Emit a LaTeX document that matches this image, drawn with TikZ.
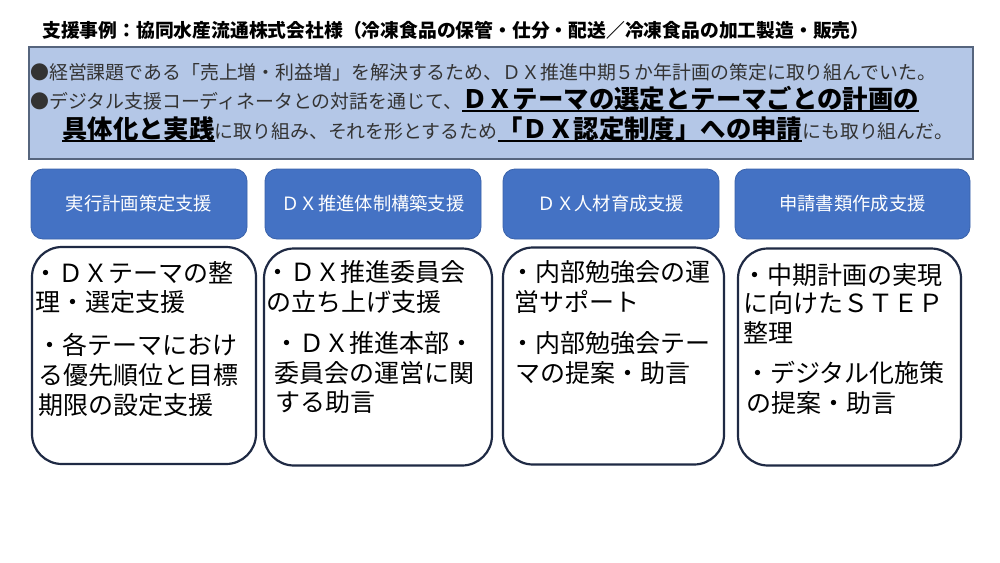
\documentclass[tikz,border=0pt]{standalone}
\usepackage{fontspec}
\setmainfont{Noto Sans CJK JP}
\definecolor{panelfill}{HTML}{B4C7E7}
\definecolor{paneldraw}{HTML}{56657E}
\definecolor{headfill}{HTML}{4472C4}
\definecolor{headdraw}{HTML}{3A62AA}
\definecolor{boxdraw}{HTML}{1F2A44}
\definecolor{paneltext}{HTML}{333333}
\newcommand\myul[1]{\setbox0\hbox{#1}\rlap{\rule[-4pt]{\wd0}{1.7pt}}\box0}
\newcommand\bigbf[1]{{\bfseries\fontsize{25.4}{25.4}\selectfont\color{black}\myul{#1}}}
\begin{document}
\begin{tikzpicture}[x=1pt,y=-1pt,
  titletext/.style={anchor=base west,inner sep=0,font=\bfseries\fontsize{18.8}{18.8}\selectfont},
  panel/.style={draw=paneldraw,line width=1.2pt,fill=panelfill,inner sep=0},
  ptext/.style={anchor=base west,inner sep=0,text=paneltext,font=\fontsize{18.9}{18.9}\selectfont},
  headbox/.style={draw=headdraw,line width=0.8pt,fill=headfill,rounded corners=12pt,minimum height=70pt,text=white,font=\fontsize{18.3}{18.3}\selectfont,inner sep=0},
  cbox/.style={draw=boxdraw,line width=2.2pt,fill=white,rounded corners=30pt,minimum height=217pt,inner sep=0},
  ctext/.style={anchor=base west,inner sep=0,font=\fontsize{25}{25}\selectfont}]
\fill[white] (0,0) rectangle (1000,562);
\useasboundingbox (0,0) rectangle (1000,562);

\node[titletext] (title) at (42,37) {支援事例：協同水産流通株式会社様（冷凍食品の保管・仕分・配送／冷凍食品の加工製造・販売）};

\node[panel,minimum width=944pt,minimum height=112pt] (panel) at (501,103) {};
\node[ptext] (p1) at (30,79) {●経営課題である「売上増・利益増」を解決するため、ＤＸ推進中期５か年計画の策定に取り組んでいた。};
\node[ptext] (p2) at (30,108) {●デジタル支援コーディネータとの対話を通じて、\bigbf{ＤＸテーマの選定とテーマごとの計画の}};
\node[ptext] (p3) at (62,138) {\bigbf{具体化と実践}に取り組み、それを形とするため\bigbf{「ＤＸ認定制度」への申請}にも取り組んだ。};

\node[headbox,minimum width=216pt] (h1) at (139,204) {実行計画策定支援};
\node[headbox,minimum width=216pt] (h2) at (373,204) {ＤＸ推進体制構築支援};
\node[headbox,minimum width=216pt] (h3) at (611,204) {ＤＸ人材育成支援};
\node[headbox,minimum width=235pt] (h4) at (852.5,204) {申請書類作成支援};

\node[cbox,minimum width=224pt] (c1) at (144,355.5) {};
\node[cbox,minimum width=228pt] (c2) at (378,357) {};
\node[cbox,minimum width=221pt] (c3) at (613.5,356) {};
\node[cbox,minimum width=223pt] (c4) at (849.5,357) {};

\node[ctext] (c1a) at (33,282) {・ＤＸテーマの整};
\node[ctext] (c1b) at (35,311) {理・選定支援};
\node[ctext] (c1c) at (37,354) {・各テーマにおけ};
\node[ctext] (c1d) at (38,384) {る優先順位と目標};
\node[ctext] (c1e) at (38,414) {期限の設定支援};

\node[ctext] (c2a) at (265,281) {・ＤＸ推進委員会};
\node[ctext] (c2b) at (266,311) {の立ち上げ支援};
\node[ctext] (c2c) at (274,352) {・ＤＸ推進本部・};
\node[ctext] (c2d) at (274,382) {委員会の運営に関};
\node[ctext] (c2e) at (275,411) {する助言};

\node[ctext] (c3a) at (510,281) {・内部勉強会の運};
\node[ctext] (c3b) at (514,311) {営サポート};
\node[ctext] (c3c) at (510,352) {・内部勉強会テー};
\node[ctext] (c3d) at (515,382) {マの提案・助言};

\node[ctext] (c4a) at (742,284) {・中期計画の実現};
\node[ctext] (c4b) at (743,312) {に向けたＳＴＥＰ};
\node[ctext] (c4c) at (743,342) {整理};
\node[ctext] (c4d) at (745,382) {・デジタル化施策};
\node[ctext] (c4e) at (746,412) {の提案・助言};
\end{tikzpicture}
\end{document}
